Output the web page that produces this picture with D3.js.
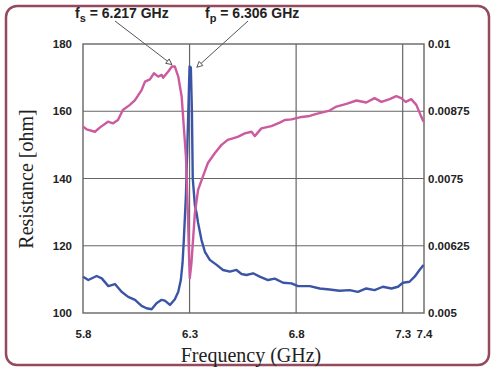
<!DOCTYPE html>
<html>
<head>
<meta charset="utf-8">
<script src="https://cdn.jsdelivr.net/npm/d3@7"></script>
<style>
  body { margin: 0; background: #fff; }
  svg { display: block; }
</style>
</head>
<body>
<div id="chart"></div>
<script>
// Resistance (left axis, ohm) vs frequency (GHz)
const resFreq = [5.800, 5.817, 5.856, 5.880, 5.917, 5.941, 5.964, 5.987, 6.020, 6.044, 6.075, 6.091,
  6.114, 6.133, 6.153, 6.169, 6.176, 6.200, 6.217, 6.231, 6.247, 6.263, 6.273, 6.283, 6.292, 6.297,
  6.301, 6.309, 6.325, 6.340, 6.362, 6.386, 6.419, 6.450, 6.479, 6.526, 6.559, 6.591, 6.606, 6.637,
  6.684, 6.723, 6.747, 6.778, 6.817, 6.864, 6.895, 6.957, 6.989, 7.036, 7.083, 7.129, 7.168, 7.200,
  7.239, 7.270, 7.293, 7.314, 7.340, 7.364, 7.387, 7.398]
const resValues = [155.5, 154.6, 153.9, 155.2, 156.9, 156.4, 157.4, 160.4, 161.9, 163.3, 166.3, 168.8,
  169.5, 171.3, 170.3, 170.8, 170.0, 171.8, 173.3, 173.3, 170.3, 164.3, 155.4, 146.5, 130.0, 118.0,
  110.4, 115.0, 129.7, 136.6, 140.5, 144.6, 147.6, 150.0, 151.5, 152.4, 153.4, 153.9, 152.6, 154.9,
  155.6, 156.6, 157.4, 157.6, 158.2, 158.6, 159.2, 160.2, 161.4, 162.2, 163.2, 162.6, 163.9, 162.8,
  163.6, 164.5, 163.9, 162.8, 163.6, 161.9, 158.4, 156.9]

// Second series (right axis) vs frequency (GHz)
const rightFreq = [5.800, 5.825, 5.864, 5.888, 5.919, 5.950, 5.981, 6.012, 6.044, 6.075, 6.098, 6.122,
  6.145, 6.169, 6.184, 6.208, 6.231, 6.247, 6.259, 6.267, 6.273, 6.283, 6.292, 6.300, 6.306, 6.311,
  6.315, 6.325, 6.333, 6.340, 6.356, 6.372, 6.395, 6.427, 6.457, 6.489, 6.520, 6.544, 6.567, 6.598,
  6.629, 6.668, 6.700, 6.739, 6.778, 6.809, 6.864, 6.911, 6.957, 7.004, 7.051, 7.090, 7.129, 7.168,
  7.207, 7.247, 7.278, 7.301, 7.332, 7.356, 7.379, 7.398]
const rightValues = [0.005675, 0.005613, 0.005688, 0.005644, 0.005500, 0.005538, 0.005394, 0.005300,
  0.005244, 0.005131, 0.005088, 0.005069, 0.005181, 0.005244, 0.005231, 0.005150, 0.005256, 0.005394,
  0.005613, 0.005925, 0.006356, 0.007188, 0.008438, 0.009581, 0.009563, 0.008750, 0.007500, 0.007000,
  0.006856, 0.006675, 0.006356, 0.006138, 0.005988, 0.005894, 0.005800, 0.005769, 0.005800, 0.005725,
  0.005706, 0.005738, 0.005675, 0.005613, 0.005638, 0.005563, 0.005550, 0.005500, 0.005500, 0.005456,
  0.005438, 0.005413, 0.005425, 0.005394, 0.005456, 0.005425, 0.005488, 0.005456, 0.005488, 0.005563,
  0.005581, 0.005675, 0.005800, 0.005894]

// Tick values and labels
const xTicks = [5.8, 6.3, 6.8, 7.3, 7.4]
const xTickLabels = ['5.8', '6.3', '6.8', '7.3', '7.4']
const leftTicks = [100, 120, 140, 160, 180]
const rightTicks = [0.005, 0.00625, 0.0075, 0.00875, 0.01]
const rightTickLabels = ['0.005', '0.00625', '0.0075', '0.00875', '0.01']
const xGrid = [6.3, 6.8, 7.3]
const yGrid = [120, 140, 160]

// Resonance markers
const markers = [
  { sub: 's', text: ' = 6.217 GHz', freq: 6.217, value: 173.3 },
  { sub: 'p', text: ' = 6.306 GHz', freq: 6.306, value: 172.5 }
]

// Sizes
const W = 493
const H = 369
const plot = { left: 83, right: 424, top: 44, bottom: 313 }

const svg = d3.select('#chart')
  .append('svg')
  .attr('width', W)
  .attr('height', H)

// Outer rounded frame
svg.append('rect')
  .attr('x', 6).attr('y', 6)
  .attr('width', 483).attr('height', 359)
  .attr('rx', 11)
  .attr('fill', '#fff')
  .attr('stroke', '#94495c')
  .attr('stroke-width', 2.5)

const x = d3.scaleLinear().domain([5.8, 7.4]).range([plot.left, plot.right])
const yL = d3.scaleLinear().domain([100, 180]).range([plot.bottom, plot.top])
const yR = d3.scaleLinear().domain([0.005, 0.01]).range([plot.bottom, plot.top])

const gridColor = '#666'

// Grid lines
svg.append('g')
  .selectAll('line')
  .data(yGrid)
  .enter()
  .append('line')
  .attr('x1', plot.left).attr('x2', plot.right)
  .attr('y1', d => yL(d)).attr('y2', d => yL(d))
  .attr('stroke', gridColor)
  .attr('stroke-width', 1.2)

svg.append('g')
  .selectAll('line')
  .data(xGrid)
  .enter()
  .append('line')
  .attr('x1', d => x(d)).attr('x2', d => x(d))
  .attr('y1', plot.top).attr('y2', plot.bottom)
  .attr('stroke', gridColor)
  .attr('stroke-width', 1.2)

// Plot border
svg.append('rect')
  .attr('x', plot.left).attr('y', plot.top)
  .attr('width', plot.right - plot.left)
  .attr('height', plot.bottom - plot.top)
  .attr('fill', 'none')
  .attr('stroke', gridColor)
  .attr('stroke-width', 1.4)

// Axes (labels only, the lines come from the border)
const tickFont = 'Arial, "Liberation Sans", sans-serif'

const xAxis = svg.append('g')
  .attr('transform', `translate(0, ${plot.bottom})`)
  .call(d3.axisBottom(x).tickValues(xTicks).tickFormat((d, i) => xTickLabels[i]).tickSize(0).tickPadding(17))
const leftAxis = svg.append('g')
  .attr('transform', `translate(${plot.left}, 0)`)
  .call(d3.axisLeft(yL).tickValues(leftTicks).tickFormat(d3.format('d')).tickSize(0).tickPadding(11))
const rightAxis = svg.append('g')
  .attr('transform', `translate(${plot.right}, 0)`)
  .call(d3.axisRight(yR).tickValues(rightTicks).tickFormat((d, i) => rightTickLabels[i]).tickSize(0).tickPadding(4))

for (const ax of [xAxis, leftAxis, rightAxis]) {
  ax.select('.domain').remove()
  ax.selectAll('text')
    .attr('font-family', tickFont)
    .attr('font-weight', 'bold')
    .attr('font-size', 11.5)
    .attr('fill', '#222')
}

// Data lines
const resLine = d3.line()
  .x((d, i) => x(resFreq[i]))
  .y(d => yL(d))
const rightLine = d3.line()
  .x((d, i) => x(rightFreq[i]))
  .y(d => yR(d))

svg.append('path')
  .datum(rightValues)
  .attr('d', rightLine)
  .attr('fill', 'none')
  .attr('stroke', '#3b55a6')
  .attr('stroke-width', 2.4)
  .attr('stroke-linejoin', 'round')

svg.append('path')
  .datum(resValues)
  .attr('d', resLine)
  .attr('fill', 'none')
  .attr('stroke', '#cc5a9e')
  .attr('stroke-width', 2.4)
  .attr('stroke-linejoin', 'round')

// Axis titles
svg.append('text')
  .attr('x', 251)
  .attr('y', 362)
  .attr('text-anchor', 'middle')
  .attr('font-family', '"Liberation Serif", "Times New Roman", serif')
  .attr('font-size', 20)
  .attr('fill', '#222')
  .text('Frequency (GHz)')

svg.append('text')
  .attr('transform', 'translate(33, 179) rotate(-90)')
  .attr('text-anchor', 'middle')
  .attr('font-family', '"Liberation Serif", "Times New Roman", serif')
  .attr('font-size', 20)
  .attr('fill', '#222')
  .text('Resistance [ohm]')

// Marker labels with arrows
const defs = svg.append('defs')
defs.append('marker')
  .attr('id', 'arrow')
  .attr('viewBox', '0 0 10 10')
  .attr('refX', 9).attr('refY', 5)
  .attr('markerWidth', 7).attr('markerHeight', 7)
  .attr('orient', 'auto')
  .append('path')
  .attr('d', 'M1,1 L9,5 L1,9 Z')
  .attr('fill', '#fff')
  .attr('stroke', '#444')
  .attr('stroke-width', 1.2)

const labelPos = [{ x: 75, y: 18, ax: 115, ay: 21, dx: 0 }, { x: 205, y: 18, ax: 248, ay: 21, dx: 6 }]

markers.forEach((m, i) => {
  const p = labelPos[i]
  const t = svg.append('text')
    .attr('x', p.x).attr('y', p.y)
    .attr('font-family', tickFont)
    .attr('font-weight', 'bold')
    .attr('font-size', 14)
    .attr('fill', '#222')
  t.append('tspan').text('f')
  t.append('tspan').attr('dy', 4).attr('font-size', 11).text(m.sub)
  t.append('tspan').attr('dy', -4).text(m.text)

  svg.append('line')
    .attr('x1', p.ax).attr('y1', p.ay)
    .attr('x2', x(m.freq) + p.dx).attr('y2', yL(m.value) - 2)
    .attr('stroke', '#555')
    .attr('stroke-width', 1)
    .attr('marker-end', 'url(#arrow)')
})
</script>
</body>
</html>
